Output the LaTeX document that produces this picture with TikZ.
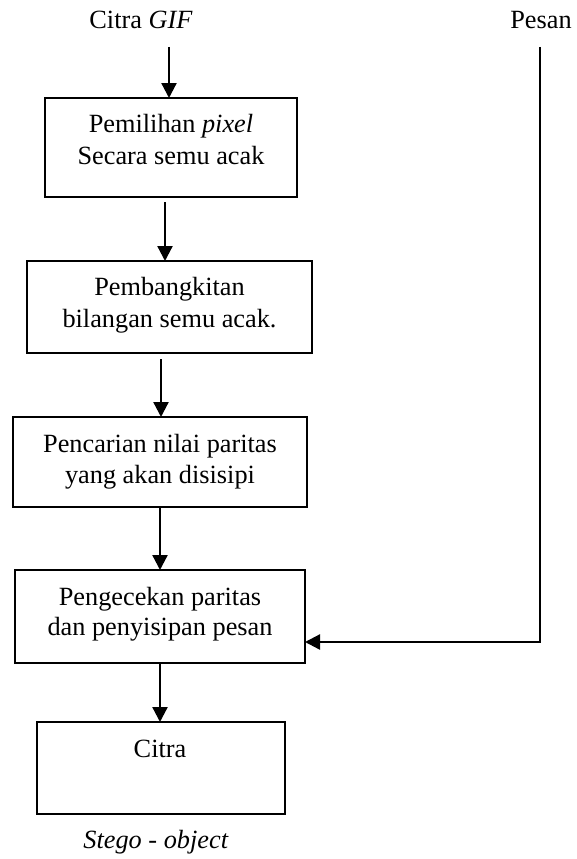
\documentclass[tikz,border=0pt]{standalone}
\usepackage{fontspec}
\setmainfont{Liberation Serif}
\usetikzlibrary{arrows.meta}
\begin{document}
\begin{tikzpicture}[x=1pt,y=-1pt,
  procbox/.style={draw, line width=2.1pt, inner sep=0pt, outer sep=0pt},
  txt/.style={anchor=base, inner sep=0pt, font=\fontsize{26.3}{31.5}\selectfont},
  flow/.style={line width=2.3pt, line join=miter, -{Triangle[length=15pt,width=15pt]}}
]
\useasboundingbox (0,0) rectangle (577,859);

% inputs
\node[txt] (cg) at (141,29) {Citra \textit{GIF}};
\node[txt] (ps) at (541,29) {Pesan};

% process boxes
\node[procbox, minimum width=252pt, minimum height=99pt] (b1) at (171,147.5) {};
\node[procbox, minimum width=285pt, minimum height=92pt] (b2) at (169.5,307) {};
\node[procbox, minimum width=294pt, minimum height=90pt] (b3) at (160,462) {};
\node[procbox, minimum width=290pt, minimum height=93pt] (b4) at (160,616.5) {};
\node[procbox, minimum width=248pt, minimum height=92pt] (b5) at (161,768) {};

% box texts
\node[txt] (t1a) at (171,132) {Pemilihan \textit{pixel}};
\node[txt] (t1b) at (171,164) {Secara semu acak};
\node[txt] (t2a) at (169.5,295) {Pembangkitan};
\node[txt] (t2b) at (169.5,327) {bilangan semu acak.};
\node[txt] (t3a) at (160,452) {Pencarian nilai paritas};
\node[txt] (t3b) at (160,483) {yang akan disisipi};
\node[txt] (t4a) at (160,605) {Pengecekan paritas};
\node[txt] (t4b) at (160,635) {dan penyisipan pesan};
\node[txt] (t5a) at (160,757) {Citra};

% output label
\node[txt] (so) at (156,848) {\textit{Stego - object}};

% connectors
\coordinate (in1) at (169,47);
\draw[flow] (in1) -- (in1 |- b1.north);

\path ([xshift=-6pt,yshift=-5pt]b1.south) coordinate (a2s);
\draw[flow] (a2s) -- (a2s |- b2.north);

\path ([xshift=-8.5pt,yshift=-6pt]b2.south) coordinate (a3s);
\draw[flow] (a3s) -- (a3s |- b3.north);

\draw[flow] (b3.south) -- (b4.north);
\draw[flow] (b4.south) -- (b4.south |- b5.north);

\coordinate (p1) at (540,47);
\path (p1 |- 0,642) coordinate (p2);
\draw[flow] (p1) -- (p2) -- (p2 -| b4.east);
\end{tikzpicture}
\end{document}
